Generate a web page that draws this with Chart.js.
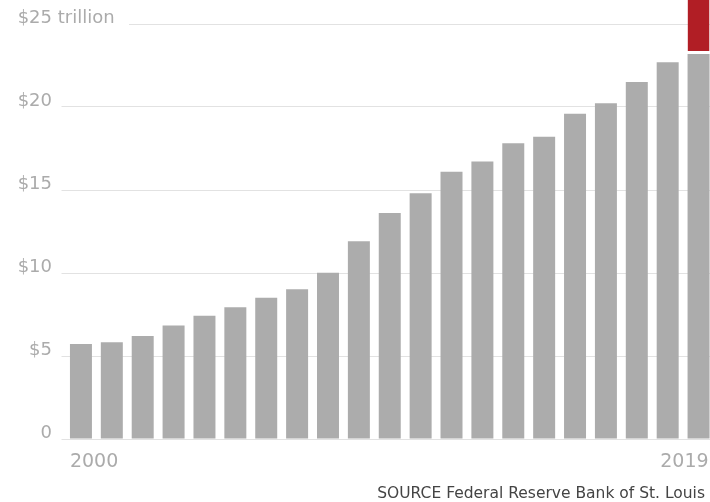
<!DOCTYPE html>
<html>
<head>
<meta charset="utf-8">
<title>Federal debt</title>
<script src="https://cdn.jsdelivr.net/npm/chart.js@4.4.1/dist/chart.umd.min.js"></script>
<style>
  html, body { margin: 0; padding: 0; background: #fff; overflow: hidden; }
  #wrap { position: relative; width: 714px; height: 502px; }
  #source {
    position: absolute; right: 9px; top: 485px;
    font: 15.5px "DejaVu Sans", sans-serif; line-height: 16px;
    color: #444; white-space: nowrap;
  }
</style>
</head>
<body>
<div id="wrap">
  <canvas id="debtChart"></canvas>
  <div id="source">SOURCE Federal Reserve Bank of St. Louis</div>
</div>
<script>
// one bar per period, only the ends get a label
const categories = ['2000', '', '', '', '', '', '', '', '', '', '',
                    '', '', '', '', '', '', '', '', '', '2019'];
// total debt, trillions of dollars
const debt = [5.72, 5.83, 6.20, 6.83, 7.43, 7.93, 8.51, 9.02, 10.02, 11.91, 13.61,
              14.80, 16.10, 16.71, 17.81, 18.21, 19.60, 20.22, 21.50, 22.69, 23.19];
// red cap on the latest bar
const latestCap = [null, null, null, null, null, null, null, null, null, null, null,
                   null, null, null, null, null, null, null, null, null, 4.0];
const yTickLabels = ['0', '$5', '$10', '$15', '$20', '$25 trillion'];

const GRAY = '#acacac';
const RED = '#b11e25';
const LABEL = '#ababab';

// draws the axis text: y labels sit on their gridline, x labels hug the end bars
const axisText = {
  id: 'axisText',
  afterDraw(chart) {
    const ctx = chart.ctx;
    const ys = chart.scales.y;
    ctx.save();
    ctx.fillStyle = LABEL;
    ctx.textBaseline = 'alphabetic';
    ctx.font = '18px "DejaVu Sans"';
    ys.ticks.forEach((t, i) => {
      const py = ys.getPixelForValue(t.value);
      const txt = yTickLabels[i] || '';
      const cut = txt.indexOf(' ');
      const head = cut < 0 ? txt : txt.slice(0, cut);
      ctx.textAlign = 'right';
      ctx.fillText(head, 52, py - 1);
      if (cut >= 0) {
        // clear the gridline under the unit text
        ctx.fillStyle = '#fff';
        ctx.fillRect(52, py - 2, 77, 4);
        ctx.fillStyle = LABEL;
        ctx.textAlign = 'left';
        ctx.fillText(txt.slice(cut), 52, py - 1);
      }
    });

    const meta = chart.getDatasetMeta(0);
    ctx.font = '19px "DejaVu Sans"';
    categories.forEach((c, i) => {
      if (!c) return;
      const bar = meta.data[i];
      if (i === categories.length - 1) {
        ctx.textAlign = 'right';
        ctx.fillText(c, bar.x + bar.width / 2 - 1, 467);
      } else {
        ctx.textAlign = 'left';
        ctx.fillText(c, bar.x - bar.width / 2, 467);
      }
    });
    ctx.restore();
  }
};

const ctx = document.getElementById('debtChart').getContext('2d');
const debtChart = new Chart(ctx, {
  type: 'bar',
  data: {
    labels: categories,
    datasets: [{
      data: debt,
      backgroundColor: GRAY,
      borderWidth: 0,
      barPercentage: 0.712,
      categoryPercentage: 1
    }, {
      data: latestCap,
      backgroundColor: RED,
      borderColor: '#fff',
      borderWidth: { top: 0, left: 0, right: 0, bottom: 3 },
      borderSkipped: false,
      clip: false,
      barPercentage: 0.712,
      categoryPercentage: 1
    }]
  },
  options: {
    responsive: true,
    maintainAspectRatio: false,
    animation: false,
    layout: { padding: { top: 24, left: 61.5, right: 0, bottom: 63 } },
    plugins: {
      legend: { display: false },
      tooltip: { enabled: false }
    },
    scales: {
      x: { stacked: true, display: false },
      y: {
        stacked: true,
        min: 0,
        max: 25,
        ticks: { stepSize: 5, display: false },
        grid: { color: '#e2e2e2', lineWidth: 1, drawTicks: true, tickLength: 4 },
        border: { display: false }
      }
    }
  },
  plugins: [axisText]
});
</script>
</body>
</html>
